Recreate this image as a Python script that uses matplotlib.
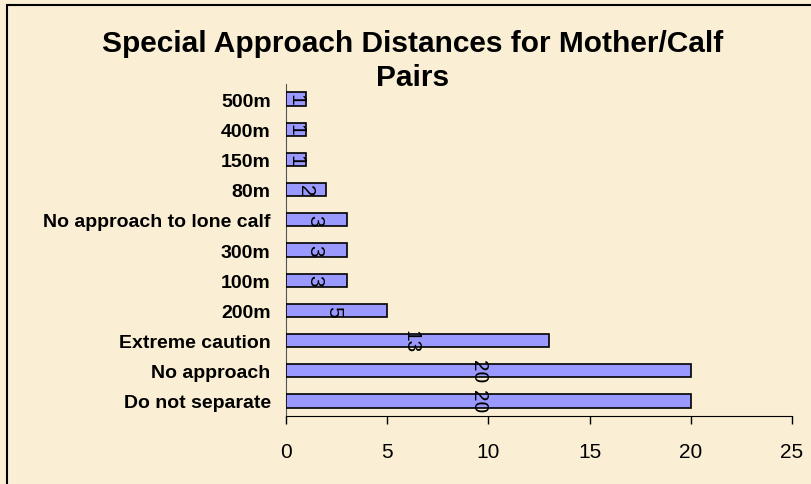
import matplotlib
matplotlib.use("Agg")
import matplotlib.pyplot as plt
from matplotlib.patches import Rectangle

categories = ["Do not separate", "No approach", "Extreme caution", "200m", "100m",
              "300m", "No approach to lone calf", "80m", "150m", "400m", "500m"]
values = [20, 20, 13, 5, 3, 3, 3, 2, 1, 1, 1]
xticks = [0, 5, 10, 15, 20, 25]

plt.rcParams['font.family'] = ['Liberation Sans', 'DejaVu Sans']

W, H = 812, 485
fig = plt.figure(figsize=(W / 100, H / 100), dpi=100)
bg = "#FAEFD4"
fig.patch.set_facecolor(bg)

# frame (left and top visible)
fig.patches.append(Rectangle((7 / W, -0.1), 1.2, (H - 6) / H + 0.1, transform=fig.transFigure,
                             fill=False, edgecolor="black", linewidth=1.5, zorder=10))

left, right = 286 / W, 792 / W
bottom, top = 1 - 417 / H, 1 - 85 / H
ax = fig.add_axes([left, bottom, right - left, top - bottom])
ax.set_facecolor("none")

y = list(range(len(categories)))
ax.barh(y, values, height=0.44, color="#9999FF", edgecolor="black", linewidth=1.2, zorder=3)
for yi, v in zip(y, values):
    ax.text(v * 0.475, yi, str(v), rotation=270, ha="center", va="center", fontsize=15, zorder=4)

ax.set_xlim(0, 25)
ax.set_ylim(-0.5, len(categories) - 0.5)
ax.set_xticks(xticks)
ax.set_xticklabels([str(t) for t in xticks], fontsize=15)
ax.set_yticks(y)
ax.set_yticklabels(categories, fontsize=14, fontweight="bold")
ax.tick_params(axis="x", direction="out", length=6, width=1, pad=13)
ax.tick_params(axis="y", length=0, pad=11)
for s in ["top", "right"]:
    ax.spines[s].set_visible(False)
ax.spines["left"].set_color("#555555")
ax.spines["bottom"].set_color("black")

fig.text(413 / W, 1 - 61 / H, "Special Approach Distances for Mother/Calf\nPairs",
         ha="center", va="center", fontsize=21.5, fontweight="bold", linespacing=1.28)

fig.savefig("out.png", dpi=100, facecolor=bg)
